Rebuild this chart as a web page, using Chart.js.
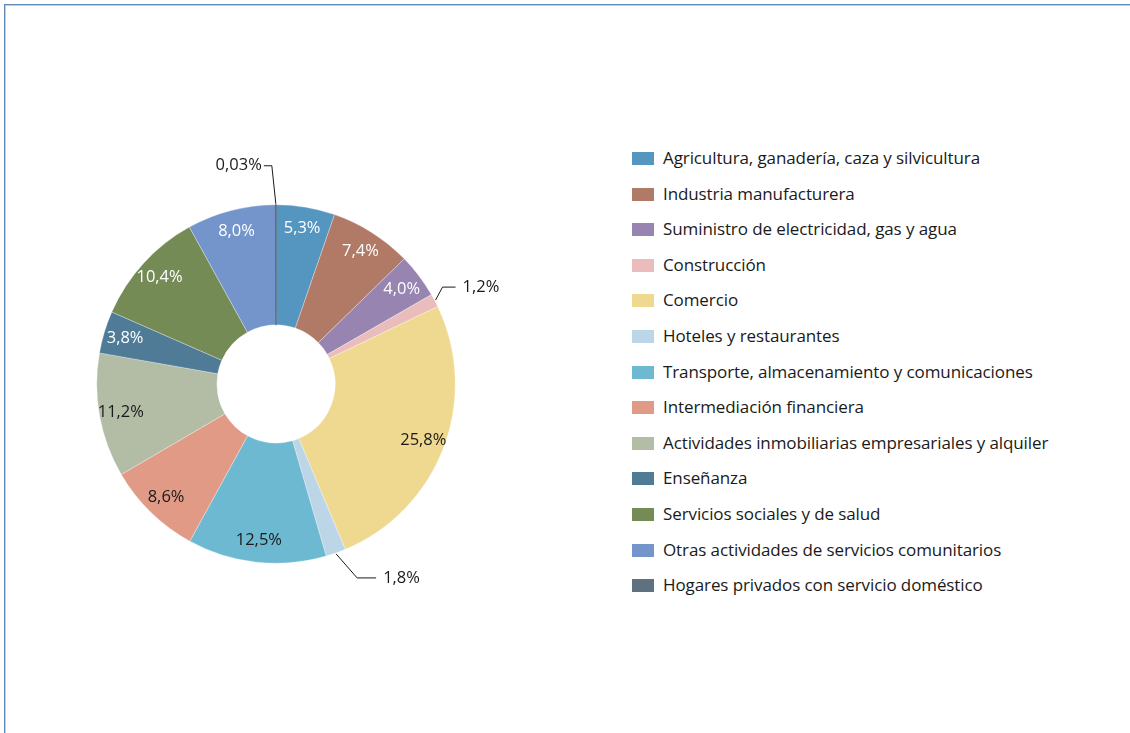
<!DOCTYPE html>
<html>
<head>
<meta charset="utf-8">
<script src="https://cdn.jsdelivr.net/npm/chart.js@4"></script>
<style>
  body { margin: 0; background: #fff; width: 1130px; height: 733px; overflow: hidden; position: relative; font-family: "Open Sans", sans-serif; }
  .frame { position: absolute; left: 4px; top: 4px; right: -10px; bottom: -10px; border-top: 1px solid #5f8ab3; border-left: 1px solid #5f8ab3; box-shadow: inset 1px 1px 0 #b9cfe3; }
  #chartWrap { position: absolute; left: 36px; top: 134px; width: 480px; height: 500px; }
  #legend { position: absolute; left: 632px; top: 148px; margin: 0; padding: 0; list-style: none; }
  #legend li { height: 35.6px; display: flex; align-items: flex-start; font-size: 17px; color: #1a1a1a; white-space: nowrap; letter-spacing: -0.1px; }
  #legend li span.box { display: inline-block; width: 22px; height: 13px; margin-right: 9px; margin-top: 4px; }
  #legend li span.txt { line-height: 20px; }
</style>
</head>
<body>
<div class="frame"></div>
<div id="chartWrap"><canvas id="myPieChart" width="480" height="500"></canvas></div>
<ul id="legend"></ul>
<script>
// sectores
var sectores = [
    'Agricultura, ganadería, caza y silvicultura',
    'Industria manufacturera',
    'Suministro de electricidad, gas y agua',
    'Construcción',
    'Comercio',
    'Hoteles y restaurantes',
    'Transporte, almacenamiento y comunicaciones',
    'Intermediación financiera',
    'Actividades inmobiliarias empresariales y alquiler',
    'Enseñanza',
    'Servicios sociales y de salud',
    'Otras actividades de servicios comunitarios',
    'Hogares privados con servicio doméstico'
];
// porcentajes
var porcentajes = [5.3, 7.4, 4.0, 1.2, 25.8, 1.8, 12.5, 8.6, 11.2, 3.8, 10.4, 8.0, 0.03];
var etiquetas = ['5,3%', '7,4%', '4,0%', '1,2%', '25,8%', '1,8%', '12,5%', '8,6%', '11,2%', '3,8%', '10,4%', '8,0%', '0,03%'];

var colores = ['#5596c1', '#b07a66', '#9784b0', '#eabcbb', '#efd88f', '#bdd6e7', '#6eb9d2',
    '#e19a86', '#b3bca4', '#4f7b96', '#748b55', '#7395cb', '#5e7180'];
var colorTexto = ['#fff', '#fff', '#fff', '#1a1a1a', '#1a1a1a', '#1a1a1a', '#1a1a1a',
    '#1a1a1a', '#1a1a1a', '#fff', '#fff', '#fff', '#1a1a1a'];

// slices with a leader line instead of an inside label
var llamadas = {
    3: { dx: 7, dy: -13, h: 13 },
    5: { dx: 21, dy: 24, h: 19 },
    12: { dx: -4, dy: -38, h: -8 }
};

var labelPlugin = {
    id: 'etiquetas',
    afterDatasetsDraw: function (chart) {
        var ctx = chart.ctx;
        var meta = chart.getDatasetMeta(0);
        ctx.save();
        ctx.font = '16.5px "Open Sans", sans-serif';
        ctx.textBaseline = 'middle';
        meta.data.forEach(function (arc, i) {
            var p = arc.getProps(['x', 'y', 'startAngle', 'endAngle', 'innerRadius', 'outerRadius'], true);
            var mid = (p.startAngle + p.endAngle) / 2;
            var c = llamadas[i];
            if (c) {
                var ax = p.x + Math.cos(mid) * (p.outerRadius + 1);
                var ay = p.y + Math.sin(mid) * (p.outerRadius + 1);
                var bx = ax + c.dx, by = ay + c.dy;
                var ex = bx + c.h;
                ctx.strokeStyle = '#1a1a1a';
                ctx.lineWidth = 1;
                ctx.beginPath();
                ctx.moveTo(ax, ay);
                ctx.lineTo(bx, by);
                ctx.lineTo(ex, by);
                ctx.stroke();
                ctx.fillStyle = '#1a1a1a';
                if (c.h < 0) {
                    ctx.textAlign = 'right';
                    ctx.fillText(etiquetas[i], ex - 2, by);
                } else {
                    ctx.textAlign = 'left';
                    ctx.fillText(etiquetas[i], ex + 7, by);
                }
            } else {
                var r = p.innerRadius + (p.outerRadius - p.innerRadius) * 0.82;
                ctx.textAlign = 'center';
                ctx.fillStyle = colorTexto[i];
                ctx.fillText(etiquetas[i], p.x + Math.cos(mid) * r, p.y + Math.sin(mid) * r);
            }
        });
        ctx.restore();
    }
};

var ctx = document.getElementById('myPieChart');
var myPieChart = new Chart(ctx, {
    type: 'doughnut',
    data: {
        labels: sectores,
        datasets: [{
            data: porcentajes,
            backgroundColor: colores,
            borderColor: colores.map(function (c, i) { return i === 12 ? c : 'rgba(255,255,255,0.6)'; }),
            borderWidth: colores.map(function (c, i) { return i === 12 ? 1.5 : 0.5; })
        }]
    },
    options: {
        responsive: false,
        devicePixelRatio: 1,
        animation: false,
        cutout: '33%',
        layout: { padding: { left: 60, right: 60, top: 70, bottom: 70 } },
        plugins: {
            legend: { display: false },
            tooltip: { enabled: false }
        }
    },
    plugins: [labelPlugin]
});

// html legend from the chart's own legend items
var items = Chart.overrides.doughnut.plugins.legend.labels.generateLabels(myPieChart);
var ul = document.getElementById('legend');
items.forEach(function (it) {
    var li = document.createElement('li');
    li.innerHTML = '<span class="box" style="background:' + it.fillStyle + '"></span><span class="txt">' + it.text + '</span>';
    ul.appendChild(li);
});
</script>
</body>
</html>
